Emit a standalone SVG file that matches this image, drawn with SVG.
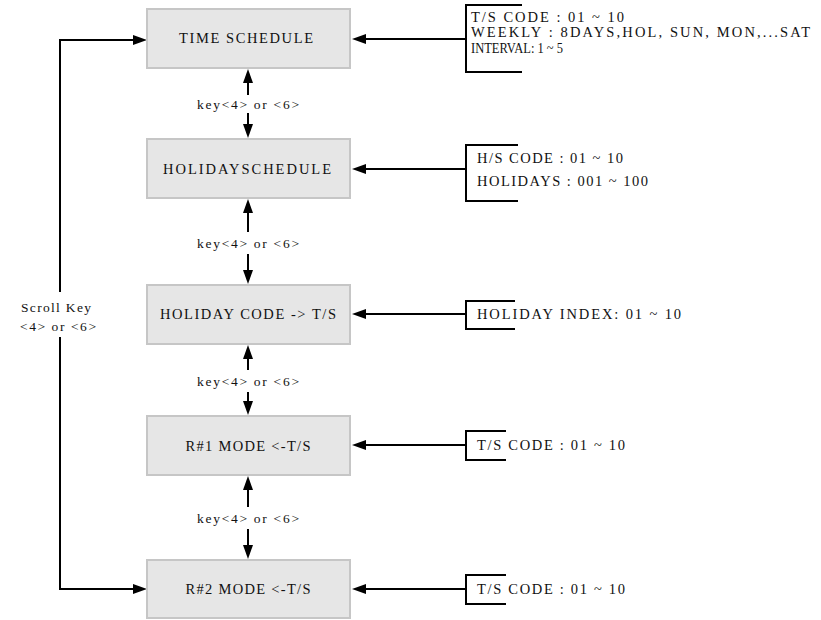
<svg xmlns="http://www.w3.org/2000/svg" width="821" height="620" viewBox="0 0 821 620">
<style>
.box{fill:#e6e6e6;stroke:#c6c6c6;stroke-width:2}
.t{font-family:"Liberation Serif",serif;font-size:14.5px;fill:#111;dominant-baseline:central}
.c{text-anchor:middle}
.k{font-family:"Liberation Serif",serif;font-size:13.5px;fill:#111;dominant-baseline:central;text-anchor:middle}
.ln{fill:none;stroke:#000;stroke-width:2}
.ar{fill:none;stroke:#000;stroke-width:2;marker-end:url(#ah)}
</style>
<defs>
<marker id="ah" markerUnits="userSpaceOnUse" markerWidth="14" markerHeight="10" refX="11" refY="5" orient="auto">
<path d="M0,0 L14,5 L0,10 z" fill="#000"/>
</marker>
</defs>
<rect width="821" height="620" fill="#fff"/>
<g id="connectors">
<path class="ar" d="M248,95 V72"/>
<path class="ar" d="M248,113 V135"/>
<path class="ar" d="M248,232 V202"/>
<path class="ar" d="M248,254 V281"/>
<path class="ar" d="M248,370 V348"/>
<path class="ar" d="M248,392 V412"/>
<path class="ar" d="M248,507 V479"/>
<path class="ar" d="M248,529 V556"/>
<path class="ar" d="M60,292 V40 H144"/>
<path class="ar" d="M60,337 V589 H144"/>
<path class="ar" d="M466,39 H355"/>
<path class="ar" d="M466,169 H355"/>
<path class="ar" d="M466,314 H355"/>
<path class="ar" d="M466,445 H355"/>
<path class="ar" d="M466,589 H355"/>
<text class="k" x="248" y="104" textLength="102">key&lt;4&gt;  or  &lt;6&gt;</text>
<text class="k" x="248" y="243" textLength="102">key&lt;4&gt;  or  &lt;6&gt;</text>
<text class="k" x="248" y="381" textLength="102">key&lt;4&gt;  or  &lt;6&gt;</text>
<text class="k" x="248" y="518" textLength="102">key&lt;4&gt;  or  &lt;6&gt;</text>
<text class="k" x="56" y="307" textLength="70">Scroll Key</text>
<text class="k" x="58" y="326" textLength="76">&lt;4&gt;  or  &lt;6&gt;</text>
</g>
<g id="n1">
<rect class="box" x="147" y="9" width="203" height="59"/>
<text class="t c" x="246" y="38" textLength="134">TIME SCHEDULE</text>
</g>
<g id="n2">
<rect class="box" x="147" y="139" width="203" height="59"/>
<text class="t c" x="247" y="169" textLength="168">HOLIDAYSCHEDULE</text>
</g>
<g id="n3">
<rect class="box" x="147" y="285" width="203" height="59"/>
<text class="t c" x="248" y="314" textLength="176">HOLIDAY CODE -&gt; T/S</text>
</g>
<g id="n4">
<rect class="box" x="147" y="416" width="203" height="59"/>
<text class="t c" x="248" y="446" textLength="125">R#1  MODE &lt;-T/S</text>
</g>
<g id="n5">
<rect class="box" x="147" y="560" width="203" height="58"/>
<text class="t c" x="248" y="589" textLength="125">R#2  MODE &lt;-T/S</text>
</g>
<g id="p1">
<path class="ln" d="M522,5 H466 V72 H522"/>
<text class="t" x="471" y="17" textLength="153">T/S CODE :  01 ~ 10</text>
<text class="t" x="471" y="32" textLength="339">WEEKLY : 8DAYS,HOL, SUN, MON,...SAT</text>
<text class="t" x="471" y="48" textLength="92" lengthAdjust="spacingAndGlyphs">INTERVAL: 1 ~ 5</text>
</g>
<g id="p2">
<path class="ln" d="M518,145 H466 V201 H518"/>
<text class="t" x="477" y="158" textLength="146">H/S CODE :  01 ~ 10</text>
<text class="t" x="477" y="181" textLength="171">HOLIDAYS : 001 ~ 100</text>
</g>
<g id="p3">
<path class="ln" d="M515,301 H466 V329 H515"/>
<text class="t" x="477" y="314" textLength="204">HOLIDAY INDEX:  01 ~ 10</text>
</g>
<g id="p4">
<path class="ln" d="M506,431 H466 V460 H506"/>
<text class="t" x="477" y="445" textLength="148">T/S CODE :  01 ~ 10</text>
</g>
<g id="p5">
<path class="ln" d="M506,575 H466 V604 H506"/>
<text class="t" x="477" y="589" textLength="148">T/S CODE :  01 ~ 10</text>
</g>
</svg>
